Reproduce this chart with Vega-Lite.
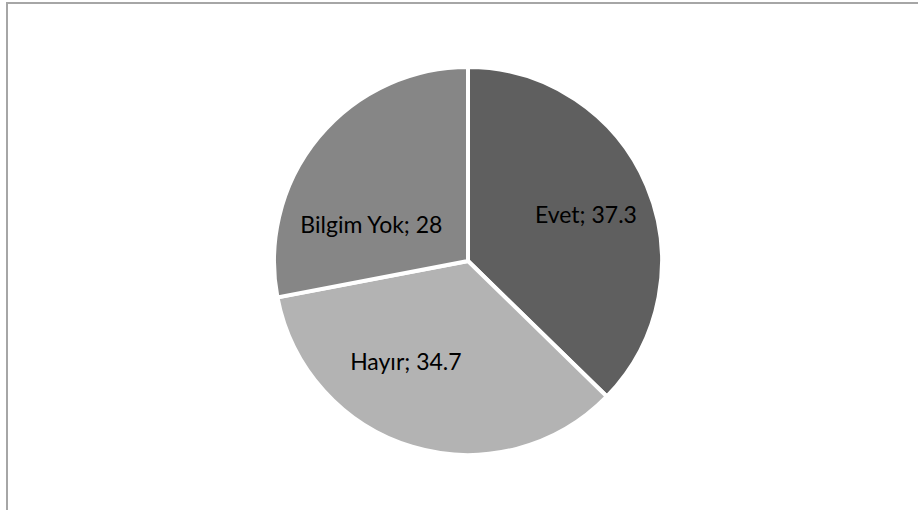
{
  "$schema": "https://vega.github.io/schema/vega-lite/v6.json",
  "autosize": {"type": "none"},
  "width": 922,
  "height": 516,
  "padding": {"left": 7, "top": 3, "right": 0, "bottom": 0},
  "background": "white",
  "view": {"stroke": "#a6a6a6", "strokeWidth": 2},
  "data": {
    "values": [
      {"answer": "Evet", "value": 37.3, "order": 1},
      {"answer": "Hayır", "value": 34.7, "order": 2},
      {"answer": "Bilgim Yok", "value": 28, "order": 3}
    ]
  },
  "transform": [
    {"calculate": "datum.answer + '; ' + datum.value", "as": "label"},
    {"stack": "value", "groupby": [], "sort": [{"field": "order", "order": "ascending"}], "as": ["v0", "v1"]},
    {"calculate": "(datum.v0 + datum.v1) / 2", "as": "mid"}
  ],
  "layer": [
    {
      "mark": {"type": "arc", "outerRadius": 194, "stroke": "white", "strokeWidth": 4},
      "encoding": {
        "theta": {"field": "v0", "type": "quantitative", "scale": {"domain": [0, 100]}},
        "theta2": {"field": "v1"},
        "color": {
          "field": "answer",
          "type": "nominal",
          "scale": {"domain": ["Evet", "Hayır", "Bilgim Yok"], "range": ["#5f5f5f", "#b3b3b3", "#868686"]},
          "legend": null
        }
      }
    },
    {
      "transform": [{"filter": "datum.answer == 'Evet'"}],
      "mark": {"type": "text", "radius": 115, "font": "Lato", "fontSize": 23, "color": "black", "dx": 12, "dy": 0},
      "encoding": {
        "theta": {"field": "mid", "type": "quantitative", "scale": {"domain": [0, 100]}},
        "text": {"field": "label"}
      }
    },
    {
      "transform": [{"filter": "datum.answer == 'Hayır'"}],
      "mark": {"type": "text", "radius": 115, "font": "Lato", "fontSize": 23, "color": "black", "dx": -29, "dy": -8},
      "encoding": {
        "theta": {"field": "mid", "type": "quantitative", "scale": {"domain": [0, 100]}},
        "text": {"field": "label"}
      }
    },
    {
      "transform": [{"filter": "datum.answer == 'Bilgim Yok'"}],
      "mark": {"type": "text", "radius": 115, "font": "Lato", "fontSize": 23, "color": "black", "dx": -8, "dy": 38},
      "encoding": {
        "theta": {"field": "mid", "type": "quantitative", "scale": {"domain": [0, 100]}},
        "text": {"field": "label"}
      }
    }
  ]
}
